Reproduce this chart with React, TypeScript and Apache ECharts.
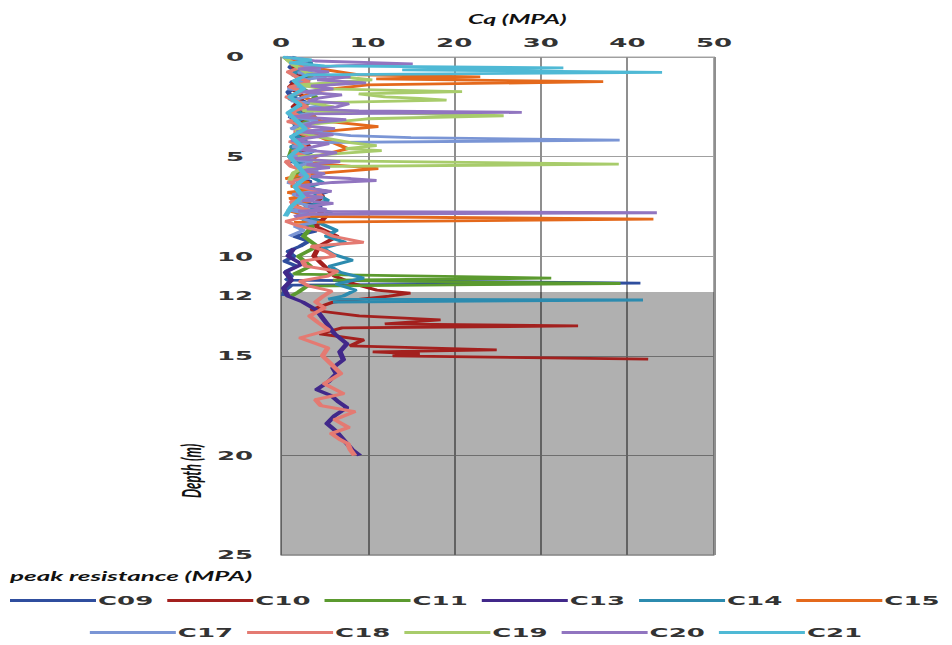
import React, { useEffect, useRef } from "react";
import * as echarts from "echarts";

// ---- Data (depth in m, Cq in MPa) ----
const SERIES_NAMES = ["C09", "C10", "C11", "C13", "C14", "C15", "C17", "C18", "C19", "C20", "C21"];
const X_TICKS = [0, 10, 20, 30, 40, 50];
const Y_TICK_LABELS = [0, 5, 10, 12, 15, 20, 25];
const SHADED_DEPTH = [11.8, 25];

const C09_DEPTH = [0, 0.25, 0.5, 0.75, 1.0, 1.25, 1.5, 1.75, 2.0, 2.25, 2.5, 2.75, 3.0, 3.25, 3.5, 3.75, 4.0, 4.25, 4.5, 4.75, 5.0, 5.25, 5.5, 5.75, 6.0, 6.25, 6.5, 6.75, 7.0, 7.25, 7.5, 7.75, 8.0, 8.25, 8.5, 8.75, 9.0, 9.25, 9.5, 9.75, 10.0, 10.25, 10.5, 10.75, 11.0, 11.2, 11.35, 11.45, 11.7, 12.0];
const C09_CQ = [0.5, 2.5, 1.0, 1.8, 3.2, 1.2, 2.0, 0.8, 1.2, 2.8, 1.5, 3.5, 1.0, 2.2, 1.6, 3.0, 1.2, 2.4, 1.8, 3.6, 2.5, 1.2, 4.2, 3.0, 1.6, 3.4, 2.2, 5.5, 3.8, 2.0, 4.6, 3.2, 1.8, 5.0, 2.8, 4.0, 1.5, 3.2, 2.2, 0.8, 1.5, 0.4, 1.8, 0.6, 1.2, 0.6, 41.5, 1.2, 0.5, 0.3];

const C10_DEPTH = [0, 0.5, 1, 1.5, 2, 2.5, 3, 3.5, 4, 4.5, 5, 5.5, 6, 6.5, 7, 7.5, 8, 8.5, 9, 9.5, 10, 10.5, 11, 11.4, 11.7, 11.85, 12.0, 12.3, 12.7, 13.0, 13.2, 13.4, 13.5, 13.6, 13.9, 14.2, 14.5, 14.7, 14.8, 14.9, 15.0, 15.17];
const C10_CQ = [0.8, 1.5, 2.2, 1.0, 2.6, 1.4, 3.0, 1.8, 2.4, 3.2, 2.0, 3.8, 2.5, 3.4, 4.8, 3.6, 5.2, 4.0, 6.5, 4.4, 3.8, 5.0, 6.2, 8.5, 11.0, 14.9, 12.5, 6.0, 3.5, 9.0, 18.4, 12.0, 34.3, 7.0, 4.5, 9.5, 8.0, 24.9, 10.6, 16.0, 12.9, 42.4];

const C11_DEPTH = [0, 0.5, 1.0, 1.5, 2.0, 2.5, 3.0, 3.5, 4.0, 4.5, 5.0, 5.5, 6.0, 6.5, 7.0, 7.5, 8.0, 8.5, 9.0, 9.5, 10.0, 10.5, 10.9, 11.1, 11.2, 11.3, 11.37, 11.5, 11.8, 12.0];
const C11_CQ = [0.4, 1.8, 3.5, 2.2, 4.0, 2.6, 3.8, 1.9, 2.8, 1.4, 1.0, 2.2, 1.6, 2.4, 1.8, 3.0, 2.2, 3.6, 2.6, 4.2, 2.0, 3.4, 1.5, 31.2, 6.0, 22.0, 39.2, 3.0, 2.0, 1.2];

const C13_DEPTH = [9.6, 10.0, 10.4, 10.8, 11.2, 11.6, 12.0, 12.3, 12.7, 13.1, 13.5, 13.9, 14.4, 14.8, 15.2, 15.6, 15.9, 16.3, 16.7, 17.0, 17.3, 17.6, 18.0, 18.4, 18.8, 19.1, 19.4, 19.7, 20.0];
const C13_CQ = [1.5, 0.8, 2.4, 0.5, 1.2, 0.3, 0.8, 2.5, 4.1, 4.8, 5.5, 6.2, 7.6, 6.8, 7.2, 6.0, 6.4, 5.5, 4.1, 5.8, 6.6, 7.6, 6.2, 5.3, 6.4, 7.0, 7.6, 8.2, 9.1];

const C14_DEPTH = [0, 0.3, 0.6, 0.9, 1.2, 1.5, 1.8, 2.1, 2.4, 2.7, 3.0, 3.3, 3.6, 3.9, 4.2, 4.5, 4.8, 5.1, 5.4, 5.7, 6.0, 6.3, 6.6, 6.9, 7.2, 7.5, 7.8, 8.1, 8.4, 8.7, 9.0, 9.3, 9.6, 9.9, 10.2, 10.5, 10.8, 11.1, 11.4, 11.7, 12.0, 12.15, 12.2, 12.3];
const C14_CQ = [1.2, 3.5, 2.0, 1.4, 2.8, 1.6, 2.2, 1.0, 2.6, 1.8, 3.0, 1.4, 2.4, 1.6, 2.8, 1.2, 2.2, 3.0, 1.8, 2.6, 3.4, 4.8, 2.6, 4.2, 5.4, 3.0, 5.8, 3.6, 4.8, 6.4, 5.2, 7.4, 4.8, 6.0, 8.2, 5.6, 6.8, 9.5, 6.4, 8.6, 7.2, 5.5, 41.8, 6.0];

const C15_DEPTH = [0, 0.3, 0.6, 0.9, 1.0, 1.1, 1.24, 1.4, 1.7, 2.0, 2.4, 2.8, 3.2, 3.5, 3.8, 4.2, 4.6, 5.0, 5.3, 5.6, 5.9, 6.1, 6.3, 6.5, 6.65, 6.8, 6.95, 7.1, 7.25, 7.4, 7.55, 7.7, 7.85, 8.0, 8.14, 8.3];
const C15_CQ = [0.5, 2.0, 4.5, 9.0, 23.0, 11.0, 37.2, 10.0, 4.0, 2.5, 5.0, 3.0, 4.5, 11.2, 3.5, 5.5, 7.7, 4.0, 3.0, 11.2, 2.5, 0.6, 3.2, 1.2, 3.8, 0.8, 2.6, 1.0, 3.4, 1.2, 2.2, 0.8, 2.0, 3.0, 43.0, 1.5];

const C17_DEPTH = [0, 0.2, 0.4, 0.6, 0.8, 1.0, 1.2, 1.4, 1.6, 1.8, 2.0, 2.2, 2.4, 2.6, 2.8, 3.0, 3.2, 3.4, 3.6, 3.8, 3.95, 4.05, 4.17, 4.3, 4.5, 4.7, 4.9, 5.1, 5.3, 5.5, 5.7, 5.9, 6.1, 6.3, 6.5, 6.7, 6.9, 7.1, 7.3, 7.5, 7.7, 7.9, 8.1, 8.3, 8.5, 8.7, 9.0];
const C17_CQ = [0.6, 3.0, 1.2, 4.5, 2.0, 5.2, 1.5, 3.8, 0.8, 4.6, 2.8, 1.2, 5.0, 2.4, 3.6, 1.0, 4.2, 2.2, 1.2, 4.8, 8.0, 15.0, 39.1, 3.4, 1.4, 4.0, 2.0, 1.0, 3.6, 1.6, 4.2, 2.2, 3.2, 0.8, 2.6, 4.4, 1.4, 2.8, 1.8, 3.6, 1.2, 3.4, 2.2, 4.0, 1.6, 2.6, 1.0];

const C18_DEPTH = [0, 0.25, 0.5, 0.75, 1.0, 1.25, 1.5, 1.75, 2.0, 2.25, 2.5, 2.75, 3.0, 3.25, 3.5, 3.75, 4.0, 4.25, 4.5, 4.75, 5.0, 5.25, 5.5, 5.75, 6.0, 6.25, 6.5, 6.75, 7.0, 7.25, 7.5, 7.75, 8.0, 8.25, 8.5, 8.75, 9.0, 9.3, 9.5, 9.75, 10.0, 10.25, 10.5, 10.75, 11.0, 11.25, 11.5, 11.75, 12.0, 12.3, 12.6, 13.0, 13.3, 13.7, 14.1, 14.6, 15.0, 15.5, 15.9, 16.4, 16.9, 17.2, 17.5, 17.8, 18.2, 18.6, 18.9, 19.2, 19.4, 19.7, 20.0];
const C18_CQ = [0.5, 1.2, 2.4, 0.8, 1.8, 3.2, 1.0, 2.6, 0.6, 2.0, 3.0, 1.2, 2.2, 0.8, 3.4, 1.6, 3.6, 1.0, 2.8, 1.4, 2.8, 0.6, 1.2, 3.0, 3.2, 1.0, 2.0, 4.2, 4.6, 1.2, 1.6, 3.8, 3.0, 0.6, 2.2, 4.8, 6.0, 9.5, 3.5, 5.2, 6.2, 2.5, 2.8, 6.5, 5.4, 2.2, 3.2, 5.8, 4.9, 4.0, 5.0, 3.3, 4.2, 5.5, 2.2, 5.4, 4.8, 6.0, 6.9, 5.0, 7.2, 4.0, 4.6, 8.5, 6.2, 7.8, 5.8, 6.8, 7.7, 8.0, 8.5];

const C19_DEPTH = [0, 0.4, 0.8, 1.15, 1.4, 1.6, 1.74, 1.85, 2.0, 2.08, 2.16, 2.3, 2.5, 2.7, 2.95, 3.1, 3.4, 3.7, 4.0, 4.3, 4.45, 4.6, 4.7, 4.85, 5.0, 5.2, 5.38, 5.5, 5.8, 6.2];
const C19_CQ = [0.4, 1.5, 3.0, 10.5, 2.0, 5.0, 20.9, 9.0, 12.0, 16.0, 19.1, 3.4, 6.0, 2.5, 25.7, 10.0, 3.0, 1.8, 4.2, 8.0, 11.0, 7.5, 11.6, 6.5, 2.0, 4.0, 39.0, 3.0, 1.5, 1.0];

const C20_DEPTH = [0, 0.1, 0.2, 0.35, 0.45, 0.6, 0.75, 0.9, 1.0, 1.15, 1.3, 1.45, 1.6, 1.75, 1.9, 2.05, 2.2, 2.35, 2.5, 2.62, 2.7, 2.78, 2.86, 3.0, 3.15, 3.3, 3.45, 3.6, 3.75, 3.9, 4.05, 4.2, 4.35, 4.5, 4.65, 4.8, 4.95, 5.1, 5.25, 5.4, 5.55, 5.7, 5.85, 6.0, 6.1, 6.2, 6.3, 6.45, 6.6, 6.75, 6.9, 7.05, 7.2, 7.35, 7.5, 7.65, 7.75, 7.82, 7.9, 8.0];
const C20_CQ = [0.3, 2.5, 4.0, 15.2, 6.5, 2.0, 5.5, 3.0, 8.0, 4.2, 9.8, 3.5, 6.0, 2.2, 7.0, 4.5, 3.2, 7.8, 6.5, 3.0, 9.0, 27.8, 4.0, 1.5, 7.5, 3.8, 2.5, 6.2, 1.8, 6.0, 3.5, 1.2, 5.5, 3.8, 2.0, 6.4, 4.5, 1.6, 6.8, 3.0, 5.6, 2.2, 5.0, 3.6, 8.0, 11.0, 6.0, 2.4, 3.4, 5.8, 1.8, 4.8, 2.5, 6.0, 3.2, 5.2, 2.0, 43.4, 3.0, 1.5];

const C21_DEPTH = [0, 0.15, 0.3, 0.45, 0.55, 0.65, 0.77, 0.9, 1.2, 1.6, 2.0, 2.4, 2.8, 3.2, 3.6, 4.0, 4.5, 5.0, 5.5, 6.0, 6.5, 7.0, 7.5, 8.0];
const C21_CQ = [0.2, 3.5, 1.0, 5.0, 32.6, 14.0, 44.0, 3.0, 1.5, 2.6, 1.0, 2.2, 0.8, 1.8, 2.8, 1.2, 2.4, 1.0, 2.0, 3.0, 1.6, 2.5, 1.2, 0.5];

const DEPTHS = [C09_DEPTH, C10_DEPTH, C11_DEPTH, C13_DEPTH, C14_DEPTH, C15_DEPTH, C17_DEPTH, C18_DEPTH, C19_DEPTH, C20_DEPTH, C21_DEPTH];
const VALUES = [C09_CQ, C10_CQ, C11_CQ, C13_CQ, C14_CQ, C15_CQ, C17_CQ, C18_CQ, C19_CQ, C20_CQ, C21_CQ];

const COLORS = ["#2F4E9E", "#A3201E", "#5B9A2F", "#41288A", "#2C8BAF", "#E4691C", "#7A95D5", "#E47A72", "#A8CC6B", "#9175C0", "#4FB9D5"];

const LABEL_FONT = "'DejaVu Sans', Verdana, sans-serif";
const TITLE_FONT = "Lato, 'Open Sans', sans-serif";

export default function App() {
  const ref = useRef<HTMLDivElement>(null);

  useEffect(() => {
    if (!ref.current) return;
    const chart = echarts.init(ref.current, undefined, { renderer: "svg" });

    const lineSeries = SERIES_NAMES.map((name, i) => ({
      name,
      type: "line",
      z: 3,
      symbol: "none",
      showSymbol: false,
      smooth: false,
      color: COLORS[i],
      lineStyle: { width: 2.8, color: COLORS[i] },
      data: DEPTHS[i].map((d, k) => [VALUES[i][k], d]),
    }));

    const legendBase = {
      icon: "rect",
      itemWidth: 43,
      itemHeight: 3,
      itemGap: 7,
      padding: 0,
      textStyle: {
        fontFamily: LABEL_FONT,
        fontSize: 13,
        fontWeight: "bold",
        color: "#333",
        padding: [0, 0, 0, -4],
      },
    };

    chart.setOption({
      animation: false,
      backgroundColor: "#ffffff",
      grid: {
        left: 140.5,
        right: 119,
        top: 57,
        bottom: 90,
        show: true,
        backgroundColor: "#ffffff",
        borderColor: "#a8a8a8",
        borderWidth: 1,
      },
      xAxis: {
        type: "value",
        position: "top",
        min: 0,
        max: 50,
        interval: 10,
        axisLine: { show: false },
        axisTick: { show: false },
        splitLine: { show: true, lineStyle: { color: "#8f8f8f", width: 1 } },
        axisLabel: {
          margin: 8,
          fontFamily: LABEL_FONT,
          fontSize: 13,
          fontWeight: "bold",
          color: "#333",
          customValues: X_TICKS,
        },
      },
      yAxis: {
        type: "value",
        inverse: true,
        min: 0,
        max: 25,
        interval: 5,
        axisLine: { show: false },
        axisTick: { show: false },
        splitLine: { show: true, lineStyle: { color: "#a0a0a0", width: 1 } },
        axisLabel: {
          align: "center",
          margin: 23,
          fontFamily: LABEL_FONT,
          fontSize: 13,
          fontWeight: "bold",
          color: "#333",
          customValues: Y_TICK_LABELS,
        },
      },
      legend: [
        { ...legendBase, data: SERIES_NAMES.slice(0, 6), left: 5, top: 594 },
        { ...legendBase, data: SERIES_NAMES.slice(6), left: "center", top: 626 },
      ],
      graphic: [
        {
          type: "text",
          left: 234,
          top: 12,
          style: {
            text: "Cq (MPA)",
            font: `italic bold 12.5px ${TITLE_FONT}`,
            fill: "#111",
          },
        },
        {
          type: "text",
          x: 95.5,
          y: 471,
          rotation: Math.PI / 2,
          style: {
            text: "Depth (m)",
            font: `italic bold 13px ${TITLE_FONT}`,
            fill: "#111",
            align: "center",
            verticalAlign: "middle",
          },
        },
        {
          type: "text",
          left: 5,
          top: 569,
          style: {
            text: "peak resistance (MPA)",
            font: `italic bold 13px ${TITLE_FONT}`,
            fill: "#111",
          },
        },
      ],
      series: [
        {
          name: "shade",
          type: "line",
          z: 1,
          data: [],
          silent: true,
          markArea: {
            silent: true,
            itemStyle: { color: "rgba(0,0,0,0.31)" },
            data: [[{ yAxis: SHADED_DEPTH[0] }, { yAxis: SHADED_DEPTH[1] }]],
          },
        },
        ...lineSeries,
      ],
    });

    return () => chart.dispose();
  }, []);

  return (
    <div
      style={{
        position: "fixed",
        left: 0,
        top: 0,
        width: 476,
        height: 645,
        transform: "scaleX(2)",
        transformOrigin: "0 0",
        background: "#fff",
      }}
    >
      <div ref={ref} style={{ width: 476, height: 645 }} />
    </div>
  );
}
